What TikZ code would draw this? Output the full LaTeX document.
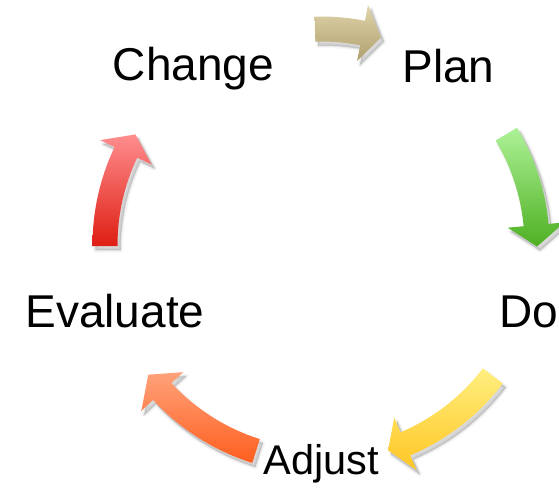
\documentclass[tikz,border=0pt]{standalone}
\usepackage{fontspec}
\setmainfont{Liberation Sans}

% arrow colours: light (top) and dark (bottom) ends of each gradient
\definecolor{tanL}{RGB}{224,212,172}
\definecolor{tanD}{RGB}{176,160,108}
\definecolor{greenL}{RGB}{174,242,152}
\definecolor{greenD}{RGB}{78,176,34}
\definecolor{yellowL}{RGB}{255,239,128}
\definecolor{yellowD}{RGB}{255,198,36}
\definecolor{orangeL}{RGB}{255,162,122}
\definecolor{orangeD}{RGB}{255,94,30}
\definecolor{redL}{RGB}{255,142,142}
\definecolor{redD}{RGB}{222,30,18}

% curved block arrow around the cycle centre:
% #1 tail angle, #2 head-base angle, #3 tip angle, #4 light colour, #5 dark colour
\newcommand\cyclearrow[5]{%
  \begin{scope}[shift={(324pt,-249pt)}]
    \foreach \lw/\op in {5pt/0.03,2.5pt/0.05,0.5pt/0.07}{
      \draw[black, fill=black, line width=\lw, opacity=\op, line join=round]
        (#1:228.5pt) arc[start angle=#1, end angle=#2, radius=228.5pt]
        -- (#2:244.5pt) -- (#3:216pt) -- (#2:187.5pt) -- (#2:203.5pt)
        arc[start angle=#2, end angle=#1, radius=203.5pt] -- cycle;}
  \end{scope}
  \begin{scope}[shift={(321pt,-245pt)}]
    \shade[top color=#4, bottom color=#5]
      (#1:228.5pt) arc[start angle=#1, end angle=#2, radius=228.5pt]
      -- (#2:244.5pt) -- (#3:216pt) -- (#2:187.5pt) -- (#2:203.5pt)
      arc[start angle=#2, end angle=#1, radius=203.5pt] -- cycle;
  \end{scope}}

\begin{document}
\begin{tikzpicture}[
  step label/.style={inner sep=0pt, anchor=base, text=black,
    font=\fontsize{46}{55}\selectfont},
  small label/.style={step label, font=\fontsize{41.5}{50}\selectfont}
]
\useasboundingbox (0,0) rectangle (559pt,-487pt);
\fill[white] (0,0) rectangle (559pt,-487pt);

% the five stages
\node[step label]  (change)   at (193.5pt,-80pt)  {Change};
\node[step label]  (plan)     at (448.5pt,-82.7pt) {Plan};
\node[step label]  (do)       at (528.5pt,-327pt) {Do};
\node[small label] (adjust)   at (321.5pt,-474pt) {Adjust};
\node[step label]  (evaluate) at (115pt,-327pt)   {Evaluate};

% the arrows between them, clockwise
\cyclearrow{91.6}{78.9}{73.9}{tanL}{tanD}
\cyclearrow{30.9}{5.3}{-0.4}{greenL}{greenD}
\cyclearrow{-37.3}{-67}{-71.9}{yellowL}{yellowD}
\cyclearrow{-107.5}{-137.3}{-143.1}{orangeL}{orangeD}
\cyclearrow{180.3}{154.6}{149.2}{redL}{redD}
\end{tikzpicture}
\end{document}
